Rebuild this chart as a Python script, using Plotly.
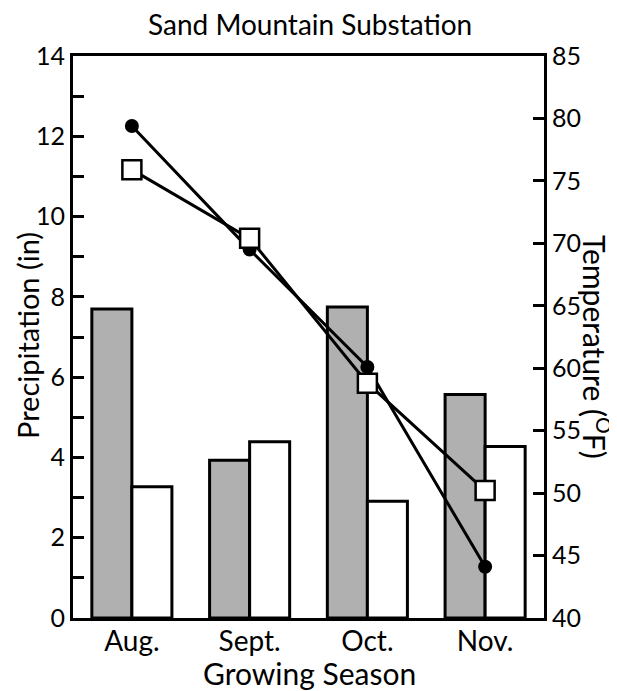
import plotly.graph_objects as go

months = ["Aug.", "Sept.", "Oct.", "Nov."]
precip_gray = [7.7, 3.93, 7.75, 5.57]
precip_white = [3.27, 4.39, 2.91, 4.27]
temp_circle = [79.4, 69.5, 60.1, 44.1]
temp_square = [75.9, 70.4, 58.8, 50.2]

left_ticks = list(range(0, 15))
left_text = [str(v) if v % 2 == 0 else "" for v in left_ticks]
right_ticks = list(range(40, 90, 5))

FONT = "Lato"
OFF = 8  # default page body margin
W, H = 617 - OFF, 691 - OFF
ML, MR, MT, MB = 73 - OFF, 73, 56 - OFF, 73
pw, ph = W - ML - MR, H - MT - MB


def px(x):
    return (x - OFF - ML) / pw


def py(y):
    return (H - MB - (y - OFF)) / ph


fig = go.Figure()
fig.add_trace(go.Bar(x=months, y=precip_gray, marker=dict(color="#b0b0b0", line=dict(color="black", width=3)),
                     showlegend=False, yaxis="y"))
fig.add_trace(go.Bar(x=months, y=precip_white, marker=dict(color="white", line=dict(color="black", width=3)),
                     showlegend=False, yaxis="y"))
fig.add_trace(go.Scatter(x=months, y=temp_circle, mode="lines+markers", yaxis="y2",
                         line=dict(color="black", width=3),
                         marker=dict(symbol="circle", size=14, color="black"), showlegend=False))
fig.add_trace(go.Scatter(x=months, y=temp_square, mode="lines+markers", yaxis="y2",
                         line=dict(color="black", width=3),
                         marker=dict(symbol="square", size=19, color="white", line=dict(color="black", width=2.5)),
                         showlegend=False))

fig.update_layout(
    width=W, height=H,
    margin=dict(l=ML, r=MR, t=MT, b=MB, autoexpand=False),
    paper_bgcolor="white", plot_bgcolor="white",
    font=dict(family=FONT, color="black", size=24),
    barmode="group", bargap=0.32, bargroupgap=0,
    xaxis=dict(type="category", range=[-0.5, 3.5], showline=True, linecolor="black", linewidth=3,
               mirror=True, ticks="", showgrid=False, tickfont=dict(size=28), automargin=False,
               ticklabelstandoff=-4),
    yaxis=dict(range=[0, 14], tickvals=left_ticks, ticktext=left_text, ticks="inside", ticklen=11,
               tickwidth=3, tickcolor="black", showline=True, linecolor="black", linewidth=3,
               showgrid=False, zeroline=False, tickfont=dict(size=25), automargin=False),
    yaxis2=dict(range=[40, 85], tickvals=right_ticks, overlaying="y", side="right", ticks="inside",
                ticklen=11, tickwidth=3, tickcolor="black", showline=True, linecolor="black",
                linewidth=3, showgrid=False, zeroline=False, tickfont=dict(size=25), automargin=False),
    annotations=[
        dict(text="Sand Mountain Substation", x=px(310), xref="paper", y=py(24), yref="paper",
             showarrow=False, font=dict(size=28), xanchor="center", yanchor="middle"),
        dict(text="Precipitation (in)", textangle=-90, x=px(27), xref="paper", y=py(336), yref="paper",
             showarrow=False, font=dict(size=29), xanchor="center", yanchor="middle"),
        dict(text="Temperature (<sup>O</sup>F)", textangle=90, x=px(597), xref="paper", y=py(347),
             yref="paper", showarrow=False, font=dict(size=30), xanchor="center", yanchor="middle"),
        dict(text="Growing Season", x=px(309), xref="paper", y=py(673), yref="paper",
             showarrow=False, font=dict(size=30), xanchor="center", yanchor="middle"),
    ],
)
fig.write_html("out.html")
